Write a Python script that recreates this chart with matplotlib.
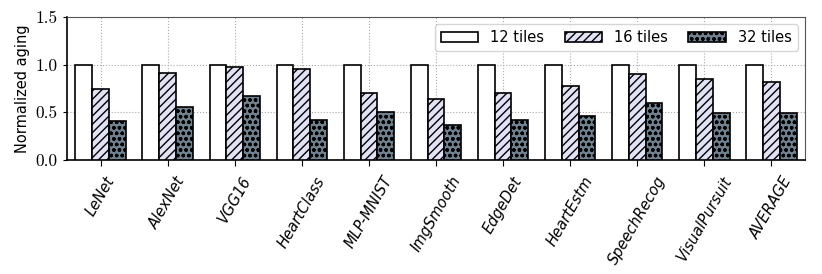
import numpy as np
import matplotlib
matplotlib.use("Agg")
import matplotlib.pyplot as plt

# Benchmarks and normalized aging for each tile count
benchmarks = ['LeNet', 'AlexNet', 'VGG16', 'HeartClass', 'MLP-MNIST', 'ImgSmooth',
              'EdgeDet', 'HeartEstm', 'SpeechRecog', 'VisualPursuit', 'AVERAGE']
tiles_12 = [1.0, 1.0, 1.0, 1.0, 1.0, 1.0, 1.0, 1.0, 1.0, 1.0, 1.0]
tiles_16 = [0.75, 0.91, 0.98, 0.95, 0.70, 0.635, 0.705, 0.775, 0.90, 0.85, 0.82]
tiles_32 = [0.41, 0.56, 0.67, 0.42, 0.50, 0.37, 0.42, 0.46, 0.60, 0.49, 0.49]
ytick_vals = [0.0, 0.5, 1.0, 1.5]

plt.rcParams['hatch.linewidth'] = 1.0

fig, ax = plt.subplots(figsize=(8.22, 2.74), dpi=100)
fig.subplots_adjust(left=67/822, right=805/822, top=1-17/274, bottom=1-160/274)

x = np.arange(len(benchmarks))
w = 0.25
ax.bar(x - w, tiles_12, w, color='white', edgecolor='black', linewidth=1.2,
       label='12 tiles', zorder=3)
ax.bar(x, tiles_16, w, color='#e2e2f6', edgecolor='black', linewidth=1.2,
       hatch='////', label='16 tiles', zorder=3)
ax.bar(x + w, tiles_32, w, color='#6f8290', edgecolor='black', linewidth=1.2,
       hatch='ooo', label='32 tiles', zorder=3)

ax.set_xlim(-0.5, len(benchmarks) - 0.5)
ax.set_ylim(0, 1.5)
ax.set_yticks(ytick_vals)
ax.set_yticklabels([f'{v:.1f}' for v in ytick_vals], fontfamily='cmr10', fontsize=12.5)
ax.tick_params(axis='y', length=3, direction='out')
ax.set_xticks(x)
ax.set_xticklabels(benchmarks, rotation=60, style='italic', fontsize=10.5, ha='center')
ax.tick_params(axis='x', length=4, direction='out', pad=6)
ax.set_ylabel('Normalized aging', fontsize=10.5)

ax.grid(True, linestyle=':', color='#aaaaaa', linewidth=0.8, zorder=0)
ax.set_axisbelow(True)
for side in ['left', 'bottom']:
    ax.spines[side].set_linewidth(1.2)
for side in ['top', 'right']:
    ax.spines[side].set_color('#555555')

ax.legend(loc='upper right', ncol=3, fontsize=10.5, handlelength=2.6,
          columnspacing=1.4, fancybox=True, framealpha=0.8)

fig.savefig('out.png', dpi=100)
